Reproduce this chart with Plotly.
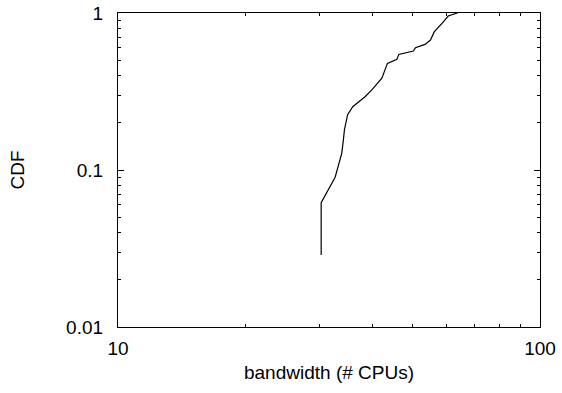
import plotly.graph_objects as go

bandwidth = [30.3, 30.3, 32.7, 33.9, 34.2, 34.4, 35.0, 36.0, 38.5, 39.9, 42.2, 43.5, 45.8, 46.3,
             50.1, 50.7, 53.4, 55.0, 56.2, 57.4, 58.8, 60.6, 62.9, 63.7]
cdf = [0.0288, 0.0619, 0.0899, 0.1277, 0.155, 0.180, 0.225, 0.253, 0.293, 0.323, 0.384, 0.478, 0.507, 0.545,
       0.573, 0.601, 0.631, 0.673, 0.760, 0.806, 0.868, 0.957, 0.985, 1.0]

FONT = "Liberation Sans, Arial, sans-serif"
x_major = [10, 100]
y_major = [0.01, 0.1, 1]
x_minor = [20, 30, 40, 50, 60, 70, 80, 90]
y_minor = [0.02, 0.03, 0.04, 0.05, 0.06, 0.07, 0.08, 0.09, 0.2, 0.3, 0.4, 0.5, 0.6, 0.7, 0.8, 0.9]

fig = go.Figure()
fig.add_trace(go.Scatter(x=bandwidth, y=cdf, mode="lines",
                         line=dict(color="black", width=1.2),
                         showlegend=False))
# invisible trace on overlay axes carrying minor ticks
fig.add_trace(go.Scatter(x=[10], y=[0.01], mode="markers", marker=dict(opacity=0),
                         xaxis="x2", yaxis="y2", showlegend=False, hoverinfo="skip"))

axis_common = dict(
    type="log", showgrid=False, zeroline=False, automargin=False,
    showline=True, linecolor="black", linewidth=1.3, mirror="allticks",
    ticks="inside", ticklen=6, tickcolor="black", tickwidth=1,
    tickfont=dict(family=FONT, size=19, color="black"),
)
minor_common = dict(
    type="log", showgrid=False, zeroline=False, automargin=False,
    showline=False, mirror="allticks", showticklabels=False,
    ticks="inside", ticklen=3, tickcolor="black", tickwidth=1,
)

fig.update_layout(
    width=562, height=393,
    margin=dict(l=118, r=22, t=13, b=66),
    paper_bgcolor="white", plot_bgcolor="white",
    xaxis=dict(axis_common, range=[1, 2], tickvals=x_major, ticktext=["10", "100"],
               title=dict(text="bandwidth (# CPUs)", standoff=7,
                          font=dict(family=FONT, size=19, color="black")),
               ticklabelstandoff=4),
    yaxis=dict(axis_common, range=[-2, 0], tickvals=y_major, ticktext=["0.01", "0.1", "1"],
               title=dict(text="CDF", standoff=36,
                          font=dict(family=FONT, size=19, color="black")),
               ticklabelstandoff=10),
    xaxis2=dict(minor_common, range=[1, 2], tickvals=x_minor, overlaying="x", side="bottom", anchor="y2"),
    yaxis2=dict(minor_common, range=[-2, 0], tickvals=y_minor, overlaying="y", side="left", anchor="x2"),
)

fig.write_html("out.html")
